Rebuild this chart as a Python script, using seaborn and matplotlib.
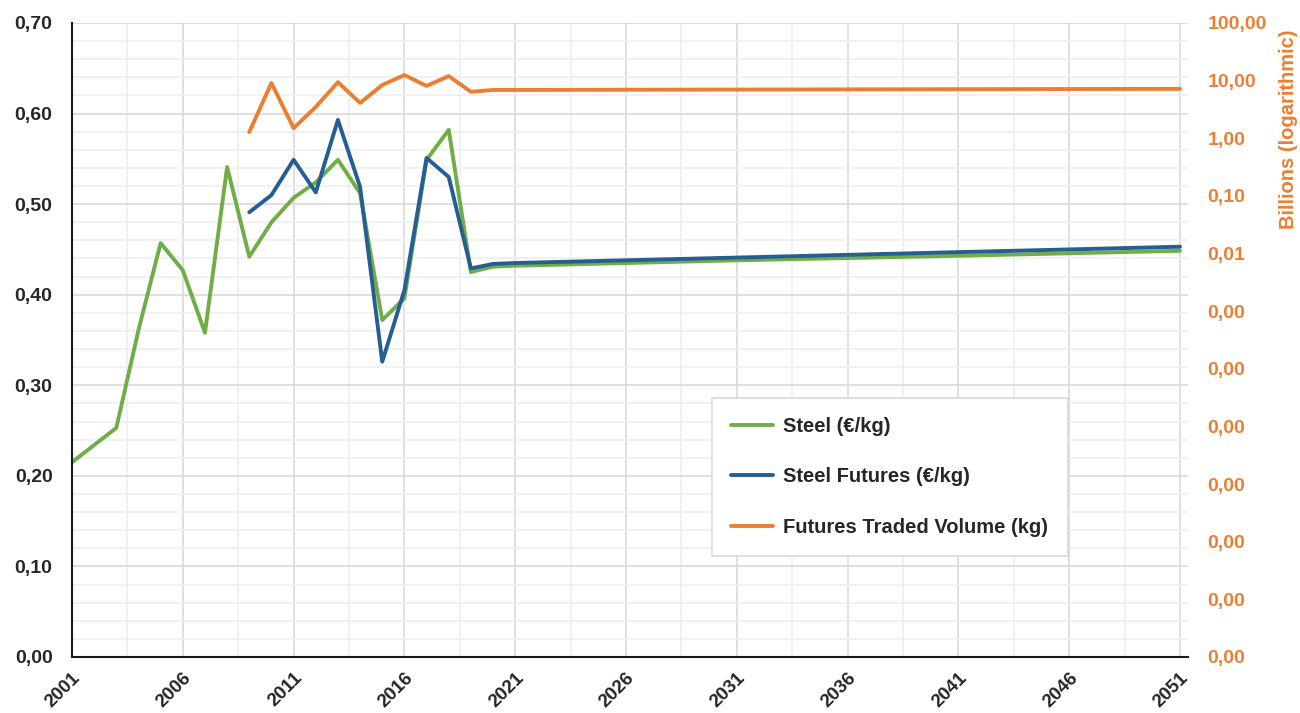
import matplotlib
matplotlib.use("Agg")
import matplotlib.pyplot as plt
from matplotlib.ticker import MultipleLocator, FixedLocator, FixedFormatter
import seaborn as sns

# Steel price (EUR/kg), yearly, then the flat projection
steel_years = [2001, 2002, 2003, 2004, 2005, 2006, 2007, 2008, 2009, 2010,
               2011, 2012, 2013, 2014, 2015, 2016, 2017, 2018, 2019, 2020,
               2021, 2031, 2041, 2051]
steel_price = [0.215, 0.234, 0.253, 0.361, 0.457, 0.427, 0.358, 0.541, 0.442, 0.480,
               0.507, 0.524, 0.549, 0.512, 0.372, 0.396, 0.549, 0.582, 0.425, 0.431,
               0.432, 0.438, 0.443, 0.4485]

# Steel futures (EUR/kg)
fut_years = [2009, 2010, 2011, 2012, 2013, 2014, 2015, 2016, 2017, 2018,
             2019, 2020, 2021, 2031, 2041, 2051]
fut_price = [0.491, 0.510, 0.549, 0.513, 0.593, 0.519, 0.326, 0.405, 0.551, 0.530,
             0.429, 0.434, 0.435, 0.441, 0.447, 0.453]

# Futures traded volume (billions of kg, log axis)
vol_years = fut_years
vol_billions = [1.28, 9.1, 1.5, 3.5, 9.4, 4.1, 8.4, 12.5, 8.1, 12.0,
                6.4, 6.9, 6.9, 7.0, 7.1, 7.2]

left_ticks = [0.0, 0.1, 0.2, 0.3, 0.4, 0.5, 0.6, 0.7]
right_ticks = [1e-9, 1e-8, 1e-7, 1e-6, 1e-5, 1e-4, 1e-3, 1e-2, 1e-1, 1e0, 1e1, 1e2]
year_ticks = list(range(2001, 2052, 5))

GREEN = "#70AD47"
BLUE = "#255E91"
ORANGE = "#ED7D31"
TEXT = "#262626"

sns.set_style("white")
plt.rcParams["font.family"] = ["Liberation Sans", "DejaVu Sans"]
plt.rcParams["font.weight"] = "bold"

fig, ax = plt.subplots(figsize=(13, 7.13), dpi=100)
fig.subplots_adjust(left=72 / 1300, right=1188 / 1300, top=1 - 23 / 713, bottom=1 - 657 / 713)

sns.lineplot(x=steel_years, y=steel_price, ax=ax, color=GREEN, linewidth=2.8,
             label="Steel (€/kg)", legend=False)
sns.lineplot(x=fut_years, y=fut_price, ax=ax, color=BLUE, linewidth=2.8,
             label="Steel Futures (€/kg)", legend=False)

ax2 = ax.twinx()
sns.lineplot(x=vol_years, y=vol_billions, ax=ax2, color=ORANGE, linewidth=2.8,
             label="Futures Traded Volume (kg)", legend=False)

# left axis
ax.set_xlim(2001, 2051.36)
ax.set_ylim(0, 0.7)
ax.set_xticks(year_ticks)
ax.set_xticklabels([str(y) for y in year_ticks], rotation=45, ha="right",
                   rotation_mode="anchor", fontsize=13.5, fontweight="bold", color=TEXT)
ax.xaxis.set_minor_locator(FixedLocator([y + 2.5 for y in year_ticks[:-1]]))
ax.set_yticks(left_ticks)
ax.set_yticklabels([f"{v:.2f}".replace(".", ",") for v in left_ticks],
                   fontsize=14, fontweight="bold", color=TEXT)
ax.yaxis.set_minor_locator(MultipleLocator(0.02))
ax.tick_params(axis="both", which="both", length=0)
ax.tick_params(axis="y", pad=14)
ax.tick_params(axis="x", pad=9)
ax.grid(which="major", color="#d9d9d9", linewidth=1.2)
ax.grid(which="minor", color="#efefef", linewidth=1.2)
ax.set_axisbelow(True)
ax.set_xlabel("")
ax.set_ylabel("")
for side in ["top", "right"]:
    ax.spines[side].set_visible(False)
ax.spines["left"].set_color("#1a1a1a")
ax.spines["bottom"].set_color("#1a1a1a")
ax.spines["left"].set_linewidth(1.5)
ax.spines["bottom"].set_linewidth(1.5)

# right axis (log)
ax2.set_yscale("log")
ax2.set_ylim(1e-9, 1e2)
ax2.yaxis.set_major_locator(FixedLocator(right_ticks))
ax2.yaxis.set_major_formatter(FixedFormatter([f"{v:.2f}".replace(".", ",") for v in right_ticks]))
ax2.yaxis.set_minor_locator(FixedLocator([]))
ax2.tick_params(axis="y", length=0, pad=14, labelsize=14, labelcolor=ORANGE)
for lbl in ax2.get_yticklabels():
    lbl.set_fontweight("bold")
ax2.set_ylabel("")
for side in ["top", "right", "left", "bottom"]:
    ax2.spines[side].set_visible(False)
ax2.grid(False)

fig.text(1288 / 1300, 1 - 129 / 713, "Billions (logarithmic)", rotation=90,
         ha="center", va="center", color=ORANGE, fontsize=14.5, fontweight="bold")

handles = ax.get_lines()[:2] + ax2.get_lines()[:1]
labels = ["Steel (€/kg)", "Steel Futures (€/kg)", "Futures Traded Volume (kg)"]
leg = ax2.legend(handles, labels, loc="upper left", bbox_to_anchor=(712 / 1300, 1 - 398 / 713),
                 bbox_transform=fig.transFigure, frameon=True, fancybox=False,
                 edgecolor="#d9d9d9", framealpha=1, prop={"size": 14.5, "weight": "bold"},
                 handlelength=2.1, handletextpad=0.5, labelspacing=1.55, borderpad=0.95,
                 borderaxespad=0)
for t in leg.get_texts():
    t.set_color(TEXT)
leg.get_frame().set_linewidth(1.2)

fig.savefig("out.png", dpi=100)
